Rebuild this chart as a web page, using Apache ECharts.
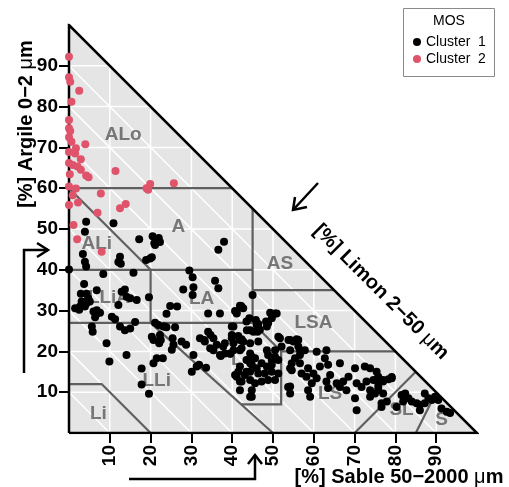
<!DOCTYPE html>
<html><head><meta charset="utf-8">
<script src="https://cdn.jsdelivr.net/npm/echarts@6/dist/echarts.min.js"></script>
<style>html,body{margin:0;padding:0;background:#fff}#c{width:509px;height:487px}</style>
</head><body><div id="c"></div>
<script>
// ---- data ----
const tickValues = [10, 20, 30, 40, 50, 60, 70, 80, 90];

// [sand %, clay %]
const cluster1 = [
 [3.9,49.3],[4.2,51.8],[10.9,51.4],[17.2,47.5],[20.5,48.2],[21.5,47.3],[22.3,46.8],[20.9,46.5],[22,47.8],[21.1,46.1],[38,46.9],[36.6,44.9],
 [3.4,43.9],[3.9,42.0],[4.2,40.8],[12.5,43.2],[12.1,41.9],[12.7,41.5],[19.9,42.8],[18.9,42.4],[20.3,43.1],
 [0,40.1],[8.4,39.0],[15.8,39.3],[29.5,39.8],[30.3,38.2],[35.8,37.3],[3.7,36.5],
 [6.8,35.0],[13.7,35.2],[12.9,34.6],[14.1,33.4],[2.9,34.1],[4.3,34.1],[15,33.0],[16.6,32.6],[19.6,33.3],
 [28.0,35.2],[30.5,35.7],[30.3,33.8],[36.6,35.5],
 [4.7,33.0],[5.1,32.2],[3.1,32.2],[1.5,30.6],[2.5,30.2],[3.9,31.0],[6.0,29.8],[7.6,29.5],[6.4,28.4],[6.8,29.3],[2.7,31.0],[4.3,31.8],[6.8,30.1],
 [12.1,31.4],[10.5,28.5],[11.3,27.9],[5.6,26.1],[5.8,24.8],[12.5,26.1],[13.7,25.2],[15.0,25.6],[16.2,27.2],
 [24.8,31.1],[26.5,31.0],[23.9,29.2],[34.1,29.3],[37.0,29.3],[40.7,29.9],[41.9,31.2],[45,33.8],
 [21.1,27.0],[21.9,26.5],[23.1,26.1],[23.9,25.9],[26.0,25.9],[23.5,26.1],
 [20.3,23.6],[20.7,22.8],[22.5,22.8],[22.1,22.0],[22.3,24.0],
 [25.4,23.2],[25.6,21.6],[25.2,20.4],[27.6,22.4],[28.7,21.6],[32.1,23.2],[33.3,22.4],[34.1,24.8],[34.7,24.0],[35.4,23.2],[36.2,21.6],[34.6,20.8],[37.2,18.9],[39.5,19.4],[40.3,26.1],[41.5,23.8],[41.9,22.8],[40.3,22.0],[42.3,20.8],[43.6,25.2],[44.2,28.1],[45.8,27.7],
 [9.2,22.0],[14.1,19.1],[9.9,17.5],[20.7,17.1],[21.5,18.3],[23.0,18.3],[17.8,15.8],[17.8,11.9],[19.6,9.6],[30.1,15.0],[31.9,16.7],[33.6,16.0],
 [30.5,19.1],[31.3,16.3],[33.1,22.8],[35.4,20.3],[37.8,21.2],[37.0,19.1],[39.9,23.2],[40.3,20.3],[42.7,22.4],[44.4,22.0],[44.8,18.7],[44.4,17.5],[41.9,16.3],[43.5,15.0],[42.3,12.6],[41.1,13.8],[44.8,8.9],[43.5,17.9],
 [42.2,31.1],[41.1,29.3],[43.5,27.3],[50.9,29.3],[48.8,26.9],[48.5,26.1],[46.4,26.7],[46.2,24.8],[44.4,25.2],[39.9,26.1],[39.9,24.0],[42.3,23.0],[41.9,20.3],[46.4,22.4],[51.3,23.6],[53.8,22.8],[55.0,22.4],[55.8,23.0],[54.2,20.3],[56.6,20.3],[39.5,19.5],[44.4,19.5],[45.6,18.3],[44.4,17.1],[48.5,20.3],[48.8,19.1],[50.5,20.3],[50.5,18.7],[51.3,17.9],[49.7,17.9],[47.2,17.1],[46.0,15.9],[44.8,16.7],[48.5,16.3],[49.7,16.7],[41.5,15.0],[40.7,14.2],[43.1,14.2],[44.4,15.0],[46.4,14.6],[48.0,14.6],[49.7,15.0],[51.3,14.6],[41.9,12.6],[44.4,13.0],[45.6,12.2],[47.2,12.6],[48.8,13.0],[50.5,13.0],[41.9,10.5],[44.8,10.5],[44.4,8.9],[54.2,11.4],[54.2,9.7],[38.2,22.0],[38.2,19.5],[54.6,17.1],[54.6,15.4],[55.4,18.3],[56.6,19.1],[52.1,21.2],
 [41.1,29.7],[42.7,30.6],[49.3,29.5],[50.5,29.3],[48.3,27.3],[49.7,28.1],[46.0,26.5],[46.8,25.3],[45.2,24.8],[51.7,23.2],[54.2,22.8],[56.2,22.8],[56.2,21.2],[57.8,20.3],[60.7,19.9],[63.1,20.3],[62.7,18.3],[66.4,17.1],[70.1,15.9],[72.5,16.3],[73.8,15.9],[75.4,15.0],[79.1,13.4],
 [56.6,17.1],[58.6,15.9],[59.9,14.6],[61.5,16.3],[63.5,16.7],[64.0,14.2],[58.2,13.8],[57.0,14.6],[54.2,15.9],[53.7,11.3],[58.6,10.5],[59.1,8.9],[59.5,12.2],[60.7,13.4],[63.1,12.6],[63.5,11.0],[65.6,12.2],[66.4,11.3],[67.2,12.6],[68.0,10.5],[68.5,13.8],[70.5,12.2],[71.7,11.3],[70.1,8.5],[70.5,5.6],[72.9,12.6],[73.8,10.5],[74.6,13.0],[75.8,12.2],[77.0,12.6],[75.8,10.5],[73.8,8.9],[76.6,7.3],[77.9,7.7],
 [75.8,13.8],[77.0,13.0],[78.3,13.2],[79.1,13.7],[75.8,11.3],[77.0,9.7],[75.0,9.7],[76.6,6.4],[80.3,6.4],
 [81.5,9.3],[82.4,9.7],[83.2,8.5],[84.0,7.7],[85.2,7.3],[86.0,6.9],[87.2,7.3],[88.1,8.5],[88.9,8.1],[89.7,8.9],[90.5,8.1],[87.2,9.7],[81.9,7.7],[86.0,5.6],[91.3,6.0],[93.4,4.9],[92.6,5.2]
];

const cluster2 = [
 [0,92.2],[0,87.2],[0.3,86.1],[2.5,83.9],[0.6,81.2],[0,76.7],[0,74.7],[0.3,74],[0,72.5],[0.6,71.4],[4,70.8],[1.7,69.8],[1.5,68.5],[0,68.9],[2.9,67.1],[0,66.2],[0.9,65.7],[2.1,65.3],[2.9,64.5],[11.4,64.2],[0.2,63.4],[4.2,63.1],[4.8,62.7],[0,60.4],[1.7,59.9],[0.9,58.3],[7.8,58.7],[19,60],[19.9,61],[19.4,59.6],[25.7,61.2],[0,55.9],[2.2,56.5],[13.9,56.1],[12.5,55.1],[7,54],[1.1,51],[2,47.5],[8,44.4]
];

const classLabels = ['ALo','A','ALi','LLiA','LA','AS','LSA','LLi','L','LS','SL','S','Li'];
const classLabelPos = [[13.3,73],[26.8,50.6],[6.8,46.3],[9.8,33.1],[32.5,33],[51.7,41.4],[59.9,26.9],[21.5,12.8],[41.1,17.9],[64,9.7],[81.5,5.6],[91.3,3.2],[7.2,4.8]];

const classBoundaries = [
 [[0,60],[40,60]],
 [[0,60],[20,40]],
 [[0,40],[45,40]],
 [[20,40],[20,27]],
 [[0,27],[45,27]],
 [[45,55],[45,27],[52,20],[52,7],[42.2,7]],
 [[45,35],[65,35]],
 [[20,27],[50,0]],
 [[52,20],[80,20]],
 [[70,0],[85,15]],
 [[85,0],[90,10]],
 [[0,12],[8,12],[20,0]]
];
const outline = [[0,0],[0,100],[100,0],[0,0]];

// ---- build ----
const gridSegs = [];
tickValues.forEach(k => {
  gridSegs.push({coords: [[0,k],[100-k,k]]});
  gridSegs.push({coords: [[k,0],[k,100-k]]});
  gridSegs.push({coords: [[0,k],[k,0]]});
});

const FONT = 'Liberation Sans, Arial, sans-serif';
const chart = echarts.init(document.getElementById('c'), null, {renderer: 'canvas'});
const axisCommon = {
  type: 'value', min: 0, max: 100, interval: 10,
  axisLine: {show: false},
  axisTick: {show: true, length: 10, customValues: tickValues, lineStyle: {color: '#000', width: 2}},
  splitLine: {show: false}
};
chart.setOption({
  animation: false,
  backgroundColor: '#fff',
  grid: {left: 69, right: 32, top: 25, bottom: 54},
  xAxis: Object.assign({}, axisCommon, {
    axisLabel: {customValues: tickValues, rotate: 90, margin: 12, fontSize: 19, fontWeight: 'bold', color: '#000', fontFamily: FONT}
  }),
  yAxis: Object.assign({}, axisCommon, {
    axisLabel: {customValues: tickValues, margin: 11, fontSize: 19, fontWeight: 'bold', color: '#000', fontFamily: FONT}
  }),
  legend: {
    orient: 'vertical', left: 413, top: 35, padding: 0, itemWidth: 8, itemHeight: 8, itemGap: 3,
    icon: 'circle', data: ['Cluster  1', 'Cluster  2'],
    textStyle: {fontSize: 14, color: '#000', fontFamily: FONT}
  },
  graphic: [
    {type: 'rect', z: 0, shape: {x: 403.5, y: 8.5, width: 91, height: 68}, style: {fill: '#fff', stroke: '#8a8a8a', lineWidth: 1}},
    {type: 'text', z: 1, x: 449, y: 21, style: {text: 'MOS', fontSize: 14, fontFamily: FONT, fill: '#000', align: 'center', verticalAlign: 'middle'}},
    {type: 'text', x: 26, y: 124, rotation: Math.PI / 2, style: {
      text: '{b|[%] Argile 0−2 }{n|μ}{b|m}', align: 'center', verticalAlign: 'middle',
      rich: {b: {fontSize: 20, fontWeight: 'bold', fontFamily: FONT, fill: '#000'}, n: {fontSize: 20, fontFamily: FONT, fill: '#000'}}}},
    {type: 'text', x: 399, y: 477, style: {
      text: '{b|[%] Sable 50−2000 }{n|μ}{b|m}', align: 'center', verticalAlign: 'middle',
      rich: {b: {fontSize: 20, fontWeight: 'bold', fontFamily: FONT, fill: '#000'}, n: {fontSize: 20, fontFamily: FONT, fill: '#000'}}}},
    {type: 'text', x: 381, y: 292, rotation: -Math.PI / 4, style: {
      text: '{b|[%] Limon 2−50 }{n|μ}{b|m}', align: 'center', verticalAlign: 'middle',
      rich: {b: {fontSize: 20, fontWeight: 'bold', fontFamily: FONT, fill: '#000'}, n: {fontSize: 20, fontFamily: FONT, fill: '#000'}}}},
    {type: 'polyline', shape: {points: [[24,373],[24,250],[48,250]]}, style: {stroke: '#000', lineWidth: 2.5, fill: null}},
    {type: 'polyline', shape: {points: [[37,243],[48,250],[37,257]]}, style: {stroke: '#000', lineWidth: 2.5, fill: null}},
    {type: 'polyline', shape: {points: [[129,479],[255,479],[255,455]]}, style: {stroke: '#000', lineWidth: 2.5, fill: null}},
    {type: 'polyline', shape: {points: [[248,464],[255,455],[262,464]]}, style: {stroke: '#000', lineWidth: 2.5, fill: null}},
    {type: 'polyline', shape: {points: [[318,183],[293,210]]}, style: {stroke: '#000', lineWidth: 2.5, fill: null}},
    {type: 'polyline', shape: {points: [[295,197],[293,210],[307,207]]}, style: {stroke: '#000', lineWidth: 2.5, fill: null}}
  ],
  series: [
    {type: 'line', silent: true, z: 1, data: [[0,100],[100,0]], symbol: 'none',
     lineStyle: {width: 0}, areaStyle: {color: '#E5E5E5', opacity: 1}},
    {type: 'lines', coordinateSystem: 'cartesian2d', polyline: true, silent: true, z: 1,
     data: gridSegs, lineStyle: {color: '#ffffff', width: 1.5, opacity: 1}},
    {type: 'lines', coordinateSystem: 'cartesian2d', polyline: true, silent: true, z: 1,
     data: classBoundaries.map(c => ({coords: c})), lineStyle: {color: '#5f5f5f', width: 2.2, opacity: 1}},
    {type: 'lines', coordinateSystem: 'cartesian2d', polyline: true, silent: true, z: 2,
     data: [{coords: outline}], lineStyle: {color: '#000', width: 2.5, opacity: 1, join: 'miter'}},
    {type: 'scatter', silent: true, z: 2, symbolSize: 0,
     data: classLabelPos.map((p, i) => ({value: p, name: classLabels[i]})),
     label: {show: true, position: 'inside', formatter: '{b}', fontSize: 19, fontWeight: 'bold', color: '#5a5a5a', fontFamily: FONT}},
    {name: 'Cluster  1', type: 'scatter', z: 3, symbolSize: 8, data: cluster1, itemStyle: {color: '#000000', opacity: 1}},
    {name: 'Cluster  2', type: 'scatter', z: 4, symbolSize: 8, data: cluster2, itemStyle: {color: '#DF536B', opacity: 1}}
  ]
});
</script>
</body></html>
